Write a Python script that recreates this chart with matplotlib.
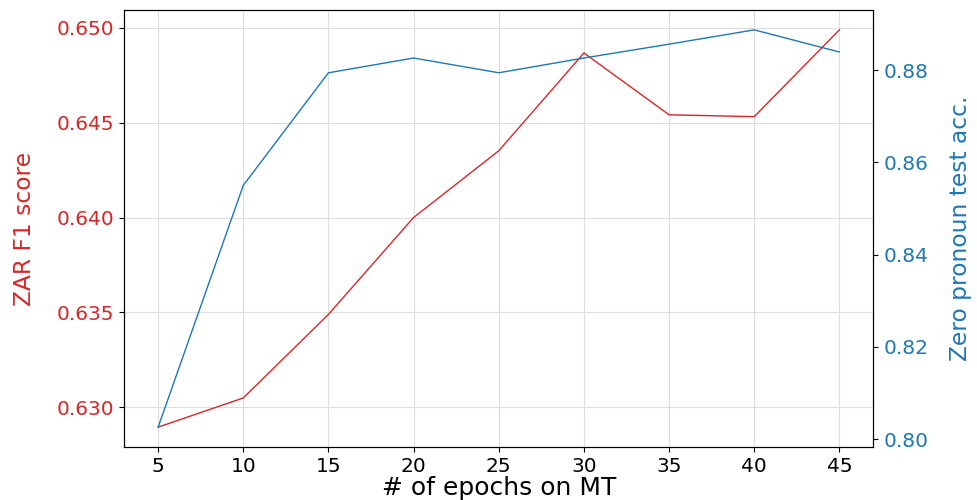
import matplotlib
matplotlib.use("Agg")
import matplotlib.pyplot as plt

epochs = [5, 10, 15, 20, 25, 30, 35, 40, 45]
zar_f1 = [0.62894, 0.63048, 0.63489, 0.64000, 0.64352, 0.64868, 0.64542, 0.64532, 0.64990]
zp_acc = [0.8026, 0.8550, 0.8794, 0.8826, 0.8794, 0.8826, 0.8856, 0.8887, 0.8839]

fig, ax1 = plt.subplots(figsize=(9.77, 5.0), dpi=100)
fig.subplots_adjust(left=0.127, right=0.894, top=0.98, bottom=0.106)

ax1.plot(epochs, zar_f1, color="tab:red", linewidth=1)
ax1.set_xlabel("# of epochs on MT", fontsize=18, labelpad=0)
ax1.set_ylabel("ZAR F1 score", color="tab:red", fontsize=16.8, labelpad=15)
ax1.tick_params(axis="y", labelcolor="tab:red", labelsize=14.5)
ax1.tick_params(axis="x", labelsize=14.5)
ax1.set_xticks(epochs)
ax1.set_yticks([0.630, 0.635, 0.640, 0.645, 0.650])
ax1.set_yticklabels(["0.630", "0.635", "0.640", "0.645", "0.650"])
ax1.grid(True, color="#dddddd", linewidth=0.8)

ax2 = ax1.twinx()
ax2.plot(epochs, zp_acc, color="tab:blue", linewidth=1)
ax2.set_ylabel("Zero pronoun test acc.", color="tab:blue", fontsize=16.8, labelpad=15)
ax2.tick_params(axis="y", labelcolor="tab:blue", labelsize=14.5)
ax2.set_yticks([0.80, 0.82, 0.84, 0.86, 0.88])

fig.savefig("out.png")
